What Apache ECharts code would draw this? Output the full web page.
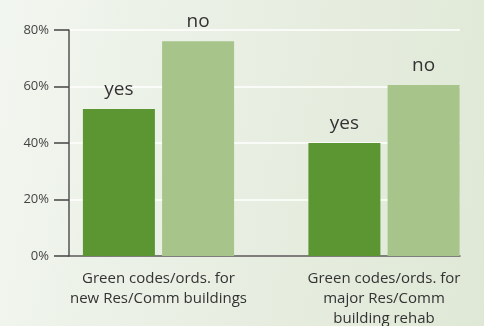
<!DOCTYPE html>
<html>
<head>
<meta charset="utf-8">
<script src="https://cdn.jsdelivr.net/npm/echarts@6/dist/echarts.min.js"></script>
<style>
  html, body { margin: 0; padding: 0; }
  #chart { width: 484px; height: 326px;
    background: linear-gradient(100deg, #f2f6f0 0%, #e9efe3 45%, #dfe8d6 100%); }
</style>
</head>
<body>
<div id="chart"></div>
<script>
var categories = ['Green codes/ords. for\nnew Res/Comm buildings', 'Green codes/ords. for\nmajor Res/Comm\nbuilding rehab'];
var yesValues = [52, 40];
var noValues = [76, 60.5];
var yTicks = [0, 20, 40, 60, 80];

var myChart = echarts.init(document.getElementById('chart'));

var font = '"Open Sans", "DejaVu Sans", sans-serif';

var option = {
    textStyle: { fontFamily: font },
    grid: [
        { left: 69, right: 24, top: 30, bottom: 70, outerBoundsMode: 'none' },
        // bar groups are not centred in the plot, so they get their own grid
        { left: 158.5, width: 225.5, top: 30, bottom: 70, outerBoundsMode: 'none' }
    ],
    xAxis: [
        {
            gridIndex: 0, type: 'category', data: categories,
            axisLine: { show: true, lineStyle: { color: '#555', width: 1.5 } },
            axisTick: { show: false },
            axisLabel: { show: false }
        },
        {
            gridIndex: 1, type: 'category', data: categories, boundaryGap: false,
            axisLine: { show: false },
            axisTick: { show: false },
            axisLabel: {
                interval: 0, showMinLabel: true, showMaxLabel: true,
                margin: 13, fontSize: 15, lineHeight: 20, color: '#333',
                fontFamily: font
            }
        }
    ],
    yAxis: [
        {
            gridIndex: 0, type: 'value', min: yTicks[0], max: yTicks[yTicks.length - 1], interval: 20,
            axisLine: { show: true, lineStyle: { color: '#555', width: 1.5 } },
            axisTick: { show: true, length: 15, lineStyle: { color: '#444', width: 1.5 } },
            axisLabel: { formatter: '{value}%', margin: 20, fontSize: 13, color: '#444', fontFamily: font },
            splitLine: { show: true, lineStyle: { color: '#ffffff', width: 1.5 } }
        },
        {
            gridIndex: 1, type: 'value', min: 0, max: 80,
            show: false, splitLine: { show: false }
        }
    ],
    series: [
        {
            name: 'yes', type: 'bar', xAxisIndex: 1, yAxisIndex: 1,
            data: yesValues, barWidth: 72, barGap: '10%',
            itemStyle: { color: '#5b9632' },
            label: { show: true, position: 'top', distance: 10, formatter: 'yes', fontSize: 19, color: '#333', fontFamily: font }
        },
        {
            name: 'no', type: 'bar', xAxisIndex: 1, yAxisIndex: 1,
            data: noValues, barWidth: 72,
            itemStyle: { color: '#a7c58a' },
            label: { show: true, position: 'top', distance: 10, formatter: 'no', fontSize: 19, color: '#333', fontFamily: font }
        }
    ]
};

myChart.setOption(option);
</script>
</body>
</html>
